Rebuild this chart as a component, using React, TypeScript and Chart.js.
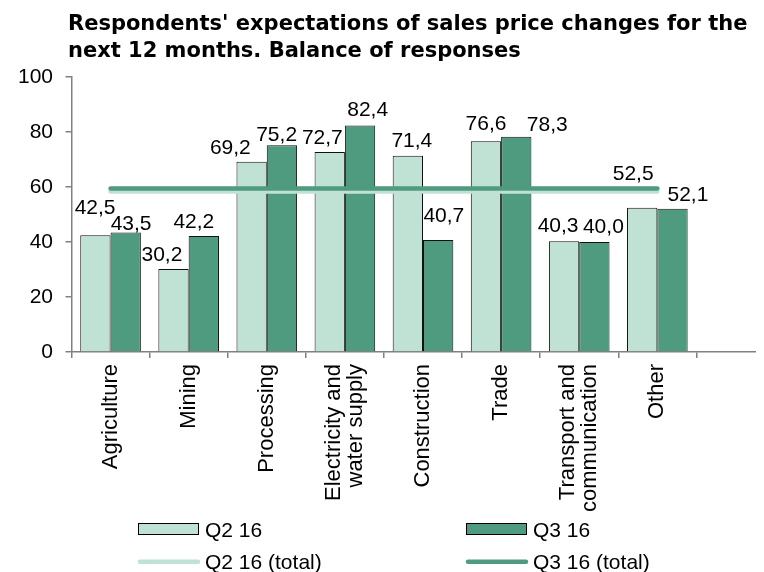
import React, { useEffect, useRef } from "react";
import { Chart, registerables } from "chart.js";

Chart.register(...registerables);

// ---------- data ----------
const titleLines = [
  "Respondents' expectations of sales price changes for the",
  "next 12 months. Balance of responses",
];
const categories: string[][] = [
  ["Agriculture"],
  ["Mining"],
  ["Processing"],
  ["Electricity and", "water supply"],
  ["Construction"],
  ["Trade"],
  ["Transport and", "communication"],
  ["Other"],
  [""],
];
const seriesNames = ["Q2 16", "Q3 16", "Q2 16 (total)", "Q3 16 (total)"];
const q2Values = [42.5, 30.2, 69.2, 72.7, 71.4, 76.6, 40.3, 52.5, null];
const q3Values = [43.5, 42.2, 75.2, 82.4, 40.7, 78.3, 40.0, 52.1, null];
const q2Total = [58.4, 58.4, 58.4, 58.4, 58.4, 58.4, 58.4, 58.4, null];
const q3Total = [59.5, 59.5, 59.5, 59.5, 59.5, 59.5, 59.5, 59.5, null];
const yTicks = [0, 20, 40, 60, 80, 100];

// ---------- styles ----------
const LIGHT = "#c0e2d4";
const DARK = "#4e9b80";
const AXIS = "#808080";
const FONT_FAMILY = '"Liberation Sans", Arial, sans-serif';
const FONT_SIZE = 21;
const TEXT_FONT = `${FONT_SIZE}px ${FONT_FAMILY}`;
const CAT_FONT = `22px ${FONT_FAMILY}`;
const TITLE_FONT = 'bold 21px "DejaVu Sans", sans-serif';

// label nudges (px) relative to bar top centre, mimicking the original placement
const q2LabelShift = [
  [-0.3, -28.5], [-11.6, -15], [-21.3, -15.7], [-7.4, -15.3],
  [4, -15.7], [0, -18.7], [-6, -16.2], [-9, -35],
];
const q3LabelShift = [
  [5.4, -9.4], [-10, -15.3], [-5.3, -12.2], [7.6, -17.4],
  [5.7, -25.1], [31, -13.4], [9, -17], [15.4, -15.4],
];

const fmt = (v: number) => v.toFixed(1).replace(".", ",");

const customPlugin = {
  id: "customDraw",
  afterDatasetsDraw(chart: any) {
    const ctx = chart.ctx;
    ctx.save();
    ctx.font = TEXT_FONT;
    ctx.fillStyle = "#000";
    ctx.textAlign = "center";
    ctx.textBaseline = "alphabetic";
    const sets: [number, number[][]][] = [
      [0, q2LabelShift],
      [1, q3LabelShift],
    ];
    sets.forEach(([di, shifts]) => {
      const meta = chart.getDatasetMeta(di);
      const data = chart.data.datasets[di].data;
      meta.data.forEach((el: any, i: number) => {
        const v = data[i];
        if (v == null) return;
        const [dx, dy] = shifts[i] || [0, -15];
        ctx.fillText(fmt(v), el.x + dx, el.y + dy + FONT_SIZE * 0.358);
      });
    });

    // category labels (rotated, centred multi-line)
    const xs = chart.scales.x;
    ctx.font = CAT_FONT;
    ctx.textAlign = "right";
    ctx.textBaseline = "middle";
    const lineH = 22;
    categories.forEach((lines, i) => {
      const cx = xs.getPixelForValue(i);
      ctx.save();
      ctx.translate(cx, xs.top + 12);
      ctx.rotate(-Math.PI / 2);
      lines.forEach((ln, j) => {
        ctx.fillText(ln, 0, (j - (lines.length - 1) / 2) * lineH);
      });
      ctx.restore();
    });
    ctx.restore();
  },
  afterDraw(chart: any) {
    const ctx = chart.ctx;
    ctx.save();
    // title
    ctx.font = TITLE_FONT;
    ctx.fillStyle = "#000";
    ctx.textAlign = "left";
    ctx.textBaseline = "alphabetic";
    ctx.fillText(titleLines[0], 60, 21.5);
    ctx.fillText(titleLines[1], 60, 49);

    // legend (2 x 2)
    const ds = chart.data.datasets;
    const colX = [130.5, 458.5];
    const textX = [197, 525];
    const row1 = 515.5;
    const row2 = 553.7;
    ctx.font = TEXT_FONT;
    for (let c = 0; c < 2; c++) {
      ctx.fillStyle = ds[c].backgroundColor;
      ctx.fillRect(colX[c], row1, 60, 11);
      ctx.strokeStyle = "#000";
      ctx.lineWidth = 1;
      ctx.strokeRect(colX[c], row1, 60, 11);
      ctx.fillStyle = "#000";
      ctx.fillText(ds[c].label, textX[c], 528.7);

      ctx.strokeStyle = ds[c + 2].borderColor;
      ctx.lineWidth = 4.5;
      ctx.lineCap = "round";
      ctx.beginPath();
      ctx.moveTo(colX[c] + 1.5, row2);
      ctx.lineTo(colX[c] + 59.5, row2);
      ctx.stroke();
      ctx.fillStyle = "#000";
      ctx.fillText(ds[c + 2].label, textX[c], 561.3);
    }
    ctx.restore();
  },
};

export default function App() {
  const canvasRef = useRef<HTMLCanvasElement | null>(null);

  useEffect(() => {
    document.documentElement.style.overflow = "hidden";
    document.body.style.overflow = "hidden";
    if (!canvasRef.current) return;
    const chart = new Chart(canvasRef.current, {
      type: "bar",
      data: {
        labels: categories.map((l) => l.join(" ")),
        datasets: [
          {
            type: "bar",
            label: seriesNames[0],
            data: q2Values,
            backgroundColor: LIGHT,
            borderColor: "#111",
            borderWidth: 1,
            categoryPercentage: 0.776,
            barPercentage: 1,
            order: 2,
          },
          {
            type: "bar",
            label: seriesNames[1],
            data: q3Values,
            backgroundColor: DARK,
            borderColor: "#111",
            borderWidth: 1,
            categoryPercentage: 0.776,
            barPercentage: 1,
            order: 2,
          },
          {
            type: "line",
            label: seriesNames[2],
            data: q2Total,
            borderColor: LIGHT,
            backgroundColor: LIGHT,
            borderWidth: 4.5,
            borderCapStyle: "round",
            pointRadius: 0,
            fill: false,
            order: 1,
          },
          {
            type: "line",
            label: seriesNames[3],
            data: q3Total,
            borderColor: DARK,
            backgroundColor: DARK,
            borderWidth: 4.5,
            borderCapStyle: "round",
            pointRadius: 0,
            fill: false,
            order: 0,
          },
        ] as any,
      },
      options: {
        responsive: true,
        maintainAspectRatio: false,
        animation: false,
        devicePixelRatio: 1,
        layout: { padding: { left: 0, right: 13.5, top: 69, bottom: 0 } },
        plugins: {
          legend: { display: false },
          title: { display: false },
          tooltip: { enabled: false },
        },
        scales: {
          x: {
            type: "category",
            offset: true,
            grid: {
              display: true,
              drawOnChartArea: false,
              drawTicks: true,
              tickLength: 6,
              color: AXIS,
              lineWidth: 1.5,
              offset: true,
            },
            border: { display: true, color: AXIS, width: 1.5 },
            ticks: { display: false },
            afterFit: (s: any) => {
              s.height = 220;
            },
          },
          y: {
            min: yTicks[0],
            max: yTicks[yTicks.length - 1],
            ticks: {
              stepSize: yTicks[1] - yTicks[0],
              padding: 12.5,
              color: "#000",
              font: { family: FONT_FAMILY, size: FONT_SIZE },
            },
            grid: {
              drawOnChartArea: false,
              drawTicks: true,
              tickLength: 6,
              color: AXIS,
              lineWidth: 1.5,
            },
            border: { display: true, color: AXIS, width: 1.5 },
            afterFit: (s: any) => {
              s.width = 63.5;
            },
          },
        },
      } as any,
      plugins: [customPlugin],
    });
    return () => chart.destroy();
  }, []);

  return (
    <div style={{ width: 756, height: 564, overflow: "hidden", position: "relative" }}>
      <div style={{ width: 780, height: 564, position: "absolute", left: 0, top: 0 }}>
        <canvas ref={canvasRef} />
      </div>
    </div>
  );
}
